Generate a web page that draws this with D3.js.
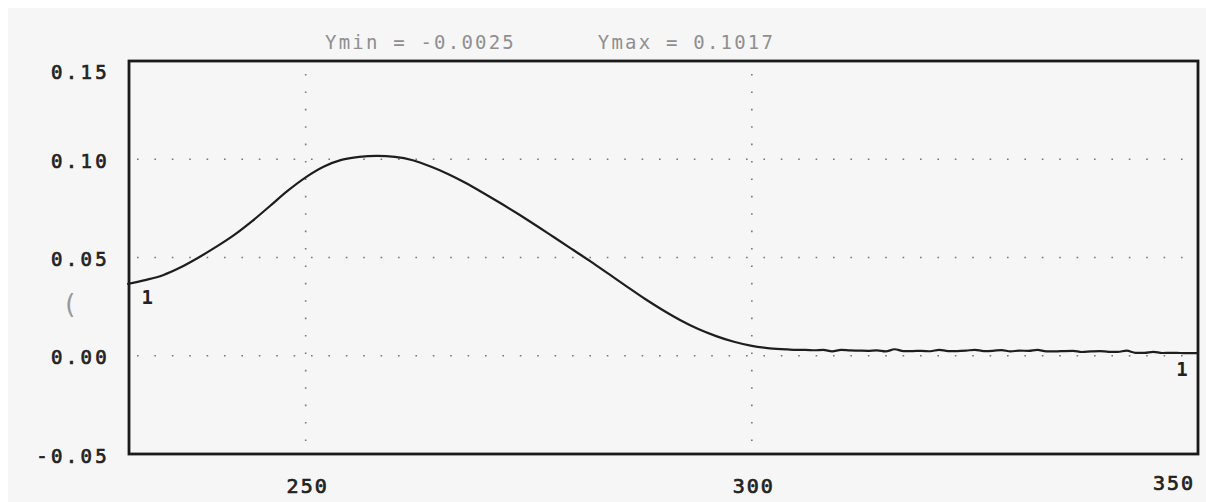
<!DOCTYPE html>
<meta charset="utf-8">
<style>
  body { margin: 0; background: #fff; }
  text { font-family: "DejaVu Sans Mono", monospace; }
</style>
<body></body>
<script src="https://cdn.jsdelivr.net/npm/d3@7"></script>
<script>

const width = 1206, height = 502;

// spectrum, wavelength (nm) vs absorbance
const wavelength = [230, 232, 234, 236, 238, 240, 242, 244, 246, 248, 250, 252, 254, 256, 258, 260, 262, 264, 266, 268,
  270, 272, 274, 276, 278, 280, 282, 284, 286, 288, 290, 292, 294, 296, 298, 300, 302, 304,
  305, 306, 307, 308, 309, 310, 311, 312, 313, 314, 315, 316, 317, 318, 319, 320, 321, 322, 323, 324, 325,
  326, 327, 328, 329, 330, 331, 332, 333, 334, 335, 336, 337, 338, 339, 340, 341, 342, 343, 344, 345,
  346, 347, 348, 349, 350];
const absorbance = [0.0365, 0.0385, 0.041, 0.045, 0.050, 0.0555, 0.0615, 0.0685, 0.0762, 0.084, 0.0908, 0.0962, 0.0997, 0.1012, 0.1017, 0.1012, 0.0995, 0.0963, 0.0924, 0.0878,
  0.0826, 0.0772, 0.0716, 0.0658, 0.0598, 0.0538, 0.0478, 0.0415, 0.0352, 0.0290, 0.0233, 0.0181, 0.0136, 0.0100, 0.0071, 0.0050, 0.0038, 0.0032,
  0.0030, 0.0030, 0.0028, 0.0030, 0.0022, 0.0030, 0.0027, 0.0026, 0.0025, 0.0027, 0.0022, 0.0033, 0.0024, 0.0024, 0.0025, 0.0023, 0.0030, 0.0024, 0.0024, 0.0026, 0.0030,
  0.0024, 0.0025, 0.0029, 0.0022, 0.0026, 0.0025, 0.0030, 0.0022, 0.0022, 0.0024, 0.0025, 0.0019, 0.0022, 0.0024, 0.0020, 0.0020, 0.0026, 0.0015, 0.0015, 0.0020,
  0.0014, 0.0015, 0.0014, 0.0013, 0.0013];

const xTicks = [250, 300, 350];
const yTicks = [-0.05, 0.00, 0.05, 0.10, 0.15];
const yGrid = [0.00, 0.05, 0.10];
const title = "Ymin = -0.0025      Ymax = 0.1017";

const margin = {top: 61, right: 8, bottom: 48, left: 129};

const x = d3.scaleLinear().domain([230.2, 350]).range([margin.left, width - margin.right]);
const y = d3.scaleLinear().domain([-0.05, 0.15]).range([height - margin.bottom, margin.top]);

const svg = d3.select("body").append("svg")
    .attr("width", width)
    .attr("height", height);

// paper
svg.append("rect").attr("width", width).attr("height", height).attr("fill", "#fff");
svg.append("rect").attr("x", 8).attr("y", 8)
    .attr("width", width - 8).attr("height", height - 8).attr("fill", "#f6f6f6");

// dotted grid
const grid = svg.append("g")
    .attr("stroke", "#777")
    .attr("stroke-width", 1.6)
    .attr("stroke-dasharray", "1.6,15.8");

grid.selectAll("line.h")
  .data(yGrid)
  .join("line")
    .attr("class", "h")
    .attr("x1", x.range()[0] + 8).attr("x2", x.range()[1])
    .attr("y1", d => y(d)).attr("y2", d => y(d));

grid.selectAll("line.v")
  .data(xTicks.slice(0, 2))
  .join("line")
    .attr("class", "v")
    .attr("x1", d => x(d)).attr("x2", d => x(d))
    .attr("y1", y.range()[1] + 13).attr("y2", y.range()[0]);

// frame
svg.append("rect")
    .attr("x", x.range()[0]).attr("y", y.range()[1])
    .attr("width", x.range()[1] - x.range()[0])
    .attr("height", y.range()[0] - y.range()[1])
    .attr("fill", "none")
    .attr("stroke", "#1a1a1a")
    .attr("stroke-width", 2.8);

// curve
const line = d3.line()
    .x((d, i) => x(wavelength[i]))
    .y(d => y(d))
    .curve(d3.curveMonotoneX);

svg.append("path")
    .datum(absorbance)
    .attr("fill", "none")
    .attr("stroke", "#1e1e1e")
    .attr("stroke-width", 2.2)
    .attr("d", line);

// curve labels "1" at both ends
svg.append("g")
    .attr("font-size", 19)
    .attr("fill", "#222")
  .selectAll("text")
  .data([0, wavelength.length - 1])
  .join("text")
    .attr("x", i => i === 0 ? x(wavelength[i]) + 20 : x(wavelength[i]) - 16)
    .attr("y", i => y(absorbance[i]) + (i === 0 ? 20 : 23))
    .attr("text-anchor", "middle")
    .attr("font-weight", "bold")
    .text("1");

// y tick labels
svg.append("g")
    .attr("font-size", 19)
    .attr("fill", "#222")
    .attr("stroke", "#222")
    .attr("stroke-width", 0.7)
    .attr("letter-spacing", 3.3)
    .attr("text-anchor", "end")
  .selectAll("text")
  .data(yTicks)
  .join("text")
    .attr("x", 110)
    .attr("y", d => Math.max(y(d), margin.top + 9) + 2)
    .attr("dy", "0.35em")
    .text(d => d3.format(".2f")(d).replace("−", "-"));

// x tick labels
svg.append("g")
    .attr("font-size", 20)
    .attr("fill", "#222")
    .attr("stroke", "#222")
    .attr("stroke-width", 0.7)
    .attr("letter-spacing", 2)
  .selectAll("text")
  .data(xTicks)
  .join("text")
    .attr("x", (d, i) => i === xTicks.length - 1 ? x(d) - 24 : x(d) + 2)
    .attr("y", (d, i) => i === xTicks.length - 1 ? 490 : 493)
    .attr("text-anchor", "middle")
    .text(d => d);

// header
svg.append("text")
    .attr("x", 325)
    .attr("y", 49)
    .attr("font-size", 19)
    .attr("fill", "#8f8f8f")
    .attr("letter-spacing", 2.2)
    .style("white-space", "pre")
    .text(title);

// pencil mark on the scan
svg.append("text")
    .attr("x", 62).attr("y", 313)
    .attr("font-size", 26)
    .attr("font-family", "DejaVu Serif")
    .attr("fill", "#999")
    .text("(");

</script>
